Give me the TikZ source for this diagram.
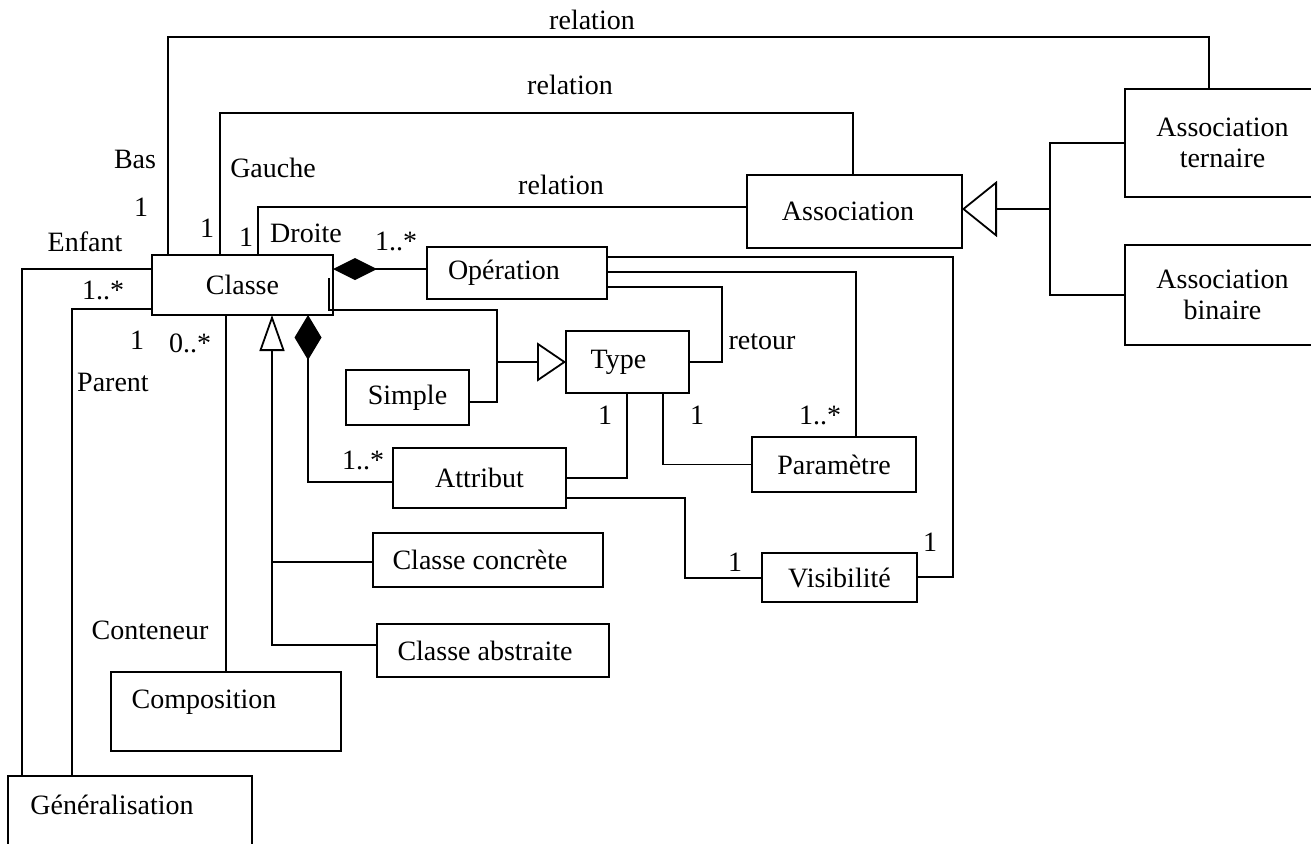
\documentclass[tikz,border=0pt]{standalone}
\usepackage{fontspec}
\setmainfont{Liberation Serif}
\usetikzlibrary{arrows.meta,calc}
\begin{document}
\begin{tikzpicture}[x=1pt,y=-1pt,line width=1.8pt,
  font=\fontsize{28}{31}\selectfont,
  box/.style={draw,line width=1.8pt,inner sep=0pt,outer sep=0pt,align=center},
  conn/.style={draw,line width=1.8pt},
  lbl/.style={inner sep=0pt}]
\useasboundingbox (0,0) rectangle (1311,843);
\clip (0,0) rectangle (1311,843);

% boxes
\node[box,minimum width=181pt,minimum height=60pt] (classe) at (242.5,285) {Classe};
\node[box,minimum width=180pt,minimum height=52pt] (operation) at (517,273) {Opération\hspace*{26pt}};
\node[box,minimum width=123pt,minimum height=62pt] (type) at (627.5,362) {Type\hspace*{18pt}};
\node[box,minimum width=123pt,minimum height=55pt] (simple) at (407.5,397.5) {Simple};
\node[box,minimum width=173pt,minimum height=60pt] (attribut) at (479.5,478) {Attribut};
\node[box,minimum width=164pt,minimum height=55pt] (parametre) at (834,464.5) {Paramètre};
\node[box,minimum width=155pt,minimum height=49pt] (visibilite) at (839.5,577.5) {Visibilité};
\node[box,minimum width=230pt,minimum height=54pt] (concrete) at (488,560) {Classe concrète\hspace*{16pt}};
\node[box,minimum width=232pt,minimum height=53pt] (abstraite) at (493,650.5) {Classe abstraite\hspace*{16pt}};
\node[box,minimum width=215pt,minimum height=73pt] (association) at (854.5,211.5) {Association\hspace*{13pt}};
\node[box,minimum width=195pt,minimum height=108pt] (ternaire) at (1222.5,143) {Association\\ternaire};
\node[box,minimum width=195pt,minimum height=100pt] (binaire) at (1222.5,295) {Association\\binaire};
\node[box,minimum width=230pt,minimum height=79pt] (composition) at (226,711.5) {};
\node[lbl] (compT) at (204,702) {Composition};
\node[box,minimum width=244pt,minimum height=120pt] (gen) at (130,836) {};
\node[lbl] (genT) at (112,805) {Généralisation};

% relations to associations
\draw[conn] (classe.north -| 168,0) |- (1209,37) -- (ternaire.north -| 1209,0);
\draw[conn] (classe.north -| 220,0) |- (853,113) -- (association.north -| 853,0);
\draw[conn] (classe.north -| 258,0) |- (association.west |- 0,207);

% Classe - Operation composition
\draw[conn,{Diamond[fill=black,length=44pt,width=22pt]}-] (classe.east |- 0,269) -- (operation.west |- 0,269);

% generalisation to Type
\coordinate (cstub) at (329,278);
\coordinate (tj) at (497,362);
\draw[conn,-{Triangle[open,fill=white,length=29pt,width=39pt]}] (cstub) |- (497,310) |- (type.west);
\draw[conn] (simple.east |- 0,402) -| (tj);

% Classe - Attribut composition
\draw[conn,{Diamond[fill=black,length=45pt,width=27pt]}-] (classe.south -| 308,0) |- (attribut.west |- 0,482);

% specialisations of Classe
\draw[conn,{Triangle[open,fill=white,length=36pt,width=25pt]}-] (classe.south -| 272,0) |- (abstraite.west |- 0,645);
\draw[conn] (concrete.west |- 0,562) -- (272,562);

% Composition
\draw[conn] (composition.north) -- (classe.south -| composition.north);

% Generalisation
\draw[conn] (classe.west |- 0,269) -| (gen.north -| 22,0);
\draw[conn] (classe.west |- 0,309) -| (gen.north -| 72,0);

% Operation links
\draw[conn] (operation.east |- 0,257) -| (953,577) -- (visibilite.east |- 0,577);
\draw[conn] (operation.east |- 0,272) -| (parametre.north -| 856,0);
\draw[conn] (operation.east |- 0,287) -| (722,362) -- (type.east);

% Type links
\draw[conn] (type.south -| 627,0) |- (attribut.east);
\draw[conn] (type.south -| 663,0) |- (parametre.west);

% Attribut - Visibilite
\draw[conn] (attribut.east |- 0,498) -| (685,578) -- (visibilite.west |- 0,578);

% Association generalisation
\coordinate (aj) at (1050,209);
\draw[conn] (ternaire.west) -| (aj) |- (binaire.west);
\draw[conn,-{Triangle[open,fill=white,length=35pt,width=56pt]}] (aj) -- (association.east |- aj);

% labels
\node[lbl] (r1) at (592,20) {relation};
\node[lbl] (r2) at (570,85) {relation};
\node[lbl] (r3) at (561,185) {relation};
\node[lbl] (bas) at (135,159) {Bas};
\node[lbl] (bas1) at (141,207) {1};
\node[lbl] (gauche) at (273,168) {Gauche};
\node[lbl] (gauche1) at (207,228) {1};
\node[lbl] (droite1) at (246,237) {1};
\node[lbl] (droite) at (306,233) {Droite};
\node[lbl] (op1) at (396,241) {1..*};
\node[lbl] (enfant) at (85,242) {Enfant};
\node[lbl] (enfant1) at (103,290) {1..*};
\node[lbl] (parent1) at (137,340) {1};
\node[lbl] (cont1) at (190,343) {0..*};
\node[lbl] (parent) at (113,382) {Parent};
\node[lbl] (retour) at (762,342) {retour};
\node[lbl] (ta1) at (605,415) {1};
\node[lbl] (tp1) at (697,415) {1};
\node[lbl] (op2) at (820,415) {1..*};
\node[lbl] (at1) at (363,460) {1..*};
\node[lbl] (vis1) at (735,562) {1};
\node[lbl] (vis2) at (930,542) {1};
\node[lbl] (cont) at (150,630) {Conteneur};
\end{tikzpicture}
\end{document}
